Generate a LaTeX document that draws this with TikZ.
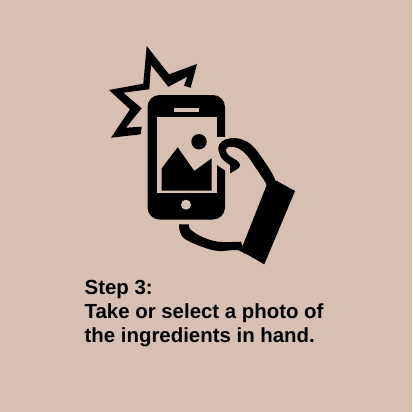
\documentclass[tikz,border=0pt]{standalone}
\usepackage{fontspec}
\setmainfont{Liberation Sans}
\definecolor{paper}{HTML}{D7C0B2}

\begin{document}
\begin{tikzpicture}[x=1pt, y=-1pt,
   icon/.style={fill=black, draw=none},
   cutout/.style={fill=paper, draw=none},
   caption/.style={anchor=north west, inner sep=0pt, align=left, font=\fontsize{20.4}{24}\selectfont\bfseries}]
   \useasboundingbox (0,0) rectangle (412,412);
   \fill[paper] (0,0) rectangle (412,412);

   % flash
   \fill[icon] (146.7,46) -- (169,74.3) -- (197,64) -- (190.7,87.7) -- (184,85.7) -- (187.3,76.7)
      -- (168.3,86.7) -- (151,65) -- (149.3,89.3) -- (123.3,92.7) -- (141.7,108.3) -- (126,127.7)
      -- (141.7,126.7) -- (140.7,134.3) -- (111,137.7) -- (130,109.3) -- (109,90) -- (143.3,83.7) -- cycle;

   % phone
   \fill[icon, rounded corners=12pt] (147.5,95) rectangle (225,219.5);
   \fill[cutout] (156.7,117.3) rectangle (216.7,193.3);
   \fill[cutout] (174.3,107.7) rectangle (199,112.3);
   \fill[cutout] (186,204.7) circle (5);
   \fill[cutout] (214,137) -- (226,137) -- (226,171) -- (214,163) -- cycle;

   % picture on the screen
   \fill[icon] (199,141.7) circle (7.7);
   \fill[icon] (161.7,168.3) -- (177.7,147.3) -- (194.3,171) -- (211.7,158.3) -- (211.7,190.7) -- (161.7,190.7) -- cycle;

   % thumb
   \fill[icon] (230,173.3) -- plot[smooth, tension=0.6] coordinates {(230,173.3) (239.3,167.3) (238.3,161.7) (228.3,155)
      (226,149.3) (230,146.7) (238.3,148.3) (246.7,155) (255,166.7) (265,181.7) (266.7,186)}
      -- (275,180) -- plot[smooth, tension=0.6] coordinates {(275,180) (271.7,172.7) (260,155) (251.7,145) (241.7,139.3)
      (230,138.3) (221.7,141.7) (218.3,148.3) (221.7,158.3) (230,165)} -- cycle;

   % finger below the phone
   \fill[icon] (179,224.3) -- (189,224.3) -- plot[smooth, tension=0.6] coordinates {(189,224.3) (190,229) (201.7,236.7)
      (218.3,241.7) (241,241.7)} -- (245,254) -- plot[smooth, tension=0.6] coordinates {(245,254) (236.7,250)
      (218.3,251) (201.7,246.7) (185,239) (180,231.7) (179,224.3)} -- cycle;

   % sleeve
   \fill[icon] (275,180) -- (295,191) -- (264.3,264.3) -- (240.7,250.7) -- (266.7,185) -- cycle;

   \node (stepcaption) at (84.5,280.5) [caption] {Step 3:\\Take or select a photo of\\the ingredients in hand.};
\end{tikzpicture}
\end{document}
